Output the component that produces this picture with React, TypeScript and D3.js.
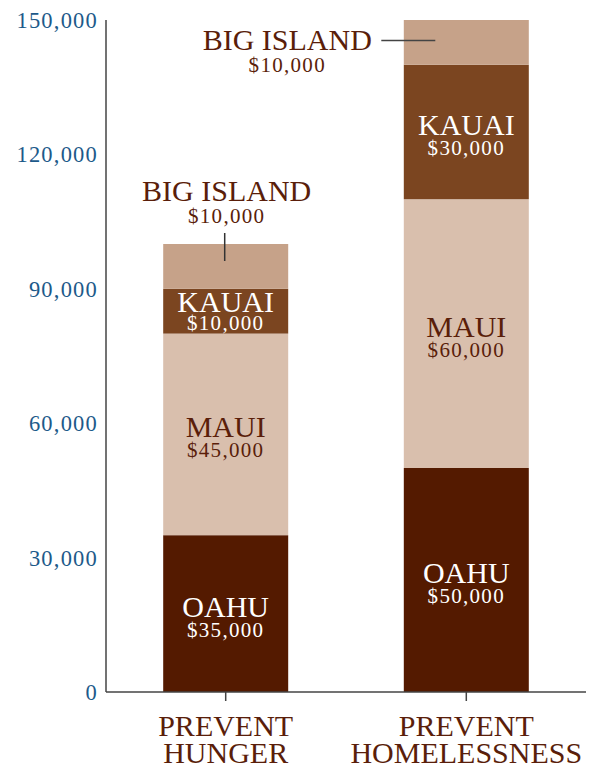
import React from "react";
import * as d3 from "d3";

const categories = ["PREVENT|HUNGER", "PREVENT|HOMELESSNESS"];
const islands = ["OAHU", "MAUI", "KAUAI", "BIG ISLAND"];
const hungerValues = [35000, 45000, 10000, 10000];
const homelessValues = [50000, 60000, 30000, 10000];
const yTicks = [0, 30000, 60000, 90000, 120000, 150000];

const colors = ["#541a00", "#d9bfad", "#7b4520", "#c6a289"];
const textColors = ["#ffffff", "#5a1e0a", "#ffffff", "#5a1e0a"];
const FONT = "'Liberation Serif', 'Times New Roman', serif";

export default function App() {
  const width = 602;
  const height = 770;
  const y = d3.scaleLinear().domain([0, 150000]).range([692, 20]);
  const x = d3
    .scaleBand()
    .domain(categories)
    .range([106, 586])
    .paddingInner(0.925)
    .paddingOuter(0.46);
  const series = [hungerValues, homelessValues];
  const stack = series.map((vals) => {
    let acc = 0;
    return vals.map((v) => {
      const s = { y0: acc, y1: acc + v, v };
      acc += v;
      return s;
    });
  });
  const fmt = d3.format(",");
  const bw = 125;

  return (
    <svg width={width} height={height} style={{ display: "block", position: "absolute", left: 0, top: 0 }}>
      {/* y tick labels */}
      {yTicks.map((t) => (
        <text
          key={t}
          x={98}
          y={y(t) + 8}
          textAnchor="end"
          fontFamily={FONT}
          fontSize={22.5}
          letterSpacing={1.2}
          fill="#1d5a8a"
        >
          {fmt(t)}
        </text>
      ))}
      {/* bars */}
      {categories.map((c, ci) => {
        const cx = (x(c) as number) + x.bandwidth() / 2;
        return (
          <g key={c}>
            {stack[ci].map((s, si) => (
              <rect
                key={si}
                x={cx - bw / 2}
                width={bw}
                y={y(s.y1)}
                height={y(s.y0) - y(s.y1)}
                fill={colors[si]}
              />
            ))}
            {stack[ci].map((s, si) => {
              if (si === 3) return null;
              const mid = (y(s.y0) + y(s.y1)) / 2;
              const small = y(s.y0) - y(s.y1) < 60;
              return (
                <text
                  key={"l" + si}
                  fill={textColors[si]}
                  fontFamily={FONT}
                  textAnchor="middle"
                  x={cx}
                  y={mid + (small ? 1 : 3)}
                >
                  <tspan x={cx} fontSize={30}>
                    {islands[si]}
                  </tspan>
                  <tspan x={cx} dy={small ? 18 : 20} fontSize={21} letterSpacing={1.3}>
                    {"$" + fmt(s.v)}
                  </tspan>
                </text>
              );
            })}
          </g>
        );
      })}
      {/* Big Island callouts */}
      {(() => {
        const c0 = (x(categories[0]) as number) + x.bandwidth() / 2;
        const c1 = (x(categories[1]) as number) + x.bandwidth() / 2;
        const s0 = stack[0][3];
        const s1 = stack[1][3];
        const top0 = y(s0.y1);
        const mid1 = (y(s1.y0) + y(s1.y1)) / 2;
        return (
          <g fontFamily={FONT} fill="#5a1e0a" textAnchor="middle">
            <line x1={c0 - 1} x2={c0 - 1} y1={top0 - 11} y2={top0 + 17} stroke="#333" strokeWidth={1.5} />
            <text x={c0 + 1} y={top0 - 43}>
              <tspan x={c0 + 1} fontSize={30}>
                {islands[3]}
              </tspan>
              <tspan x={c0 + 1} dy={22} fontSize={21} letterSpacing={1.3}>
                {"$" + fmt(s0.v)}
              </tspan>
            </text>
            <line x1={c1 - 85} x2={c1 - 31} y1={mid1 - 2} y2={mid1 - 2} stroke="#444" strokeWidth={1.5} />
            <text x={c1 - 179} y={mid1 + 8}>
              <tspan x={c1 - 179} fontSize={30}>
                {islands[3]}
              </tspan>
              <tspan x={c1 - 179} dy={22} fontSize={21} letterSpacing={1.3}>
                {"$" + fmt(s1.v)}
              </tspan>
            </text>
          </g>
        );
      })()}
      {/* axes */}
      <line x1={106} x2={106} y1={20} y2={692} stroke="#444" strokeWidth={1.5} />
      <line x1={106} x2={586} y1={692} y2={692} stroke="#444" strokeWidth={1.5} />
      {categories.map((c) => {
        const cx = (x(c) as number) + x.bandwidth() / 2;
        const lines = c.split("|");
        return (
          <g key={"t" + c}>
            <line x1={cx} x2={cx} y1={692} y2={701} stroke="#444" strokeWidth={1.5} />
            <text x={cx} y={736} textAnchor="middle" fontFamily={FONT} fontSize={30} fill="#5a1e0a">
              {lines.map((ln, li) => (
                <tspan key={li} x={cx} dy={li === 0 ? 0 : 27}>
                  {ln}
                </tspan>
              ))}
            </text>
          </g>
        );
      })}
    </svg>
  );
}
